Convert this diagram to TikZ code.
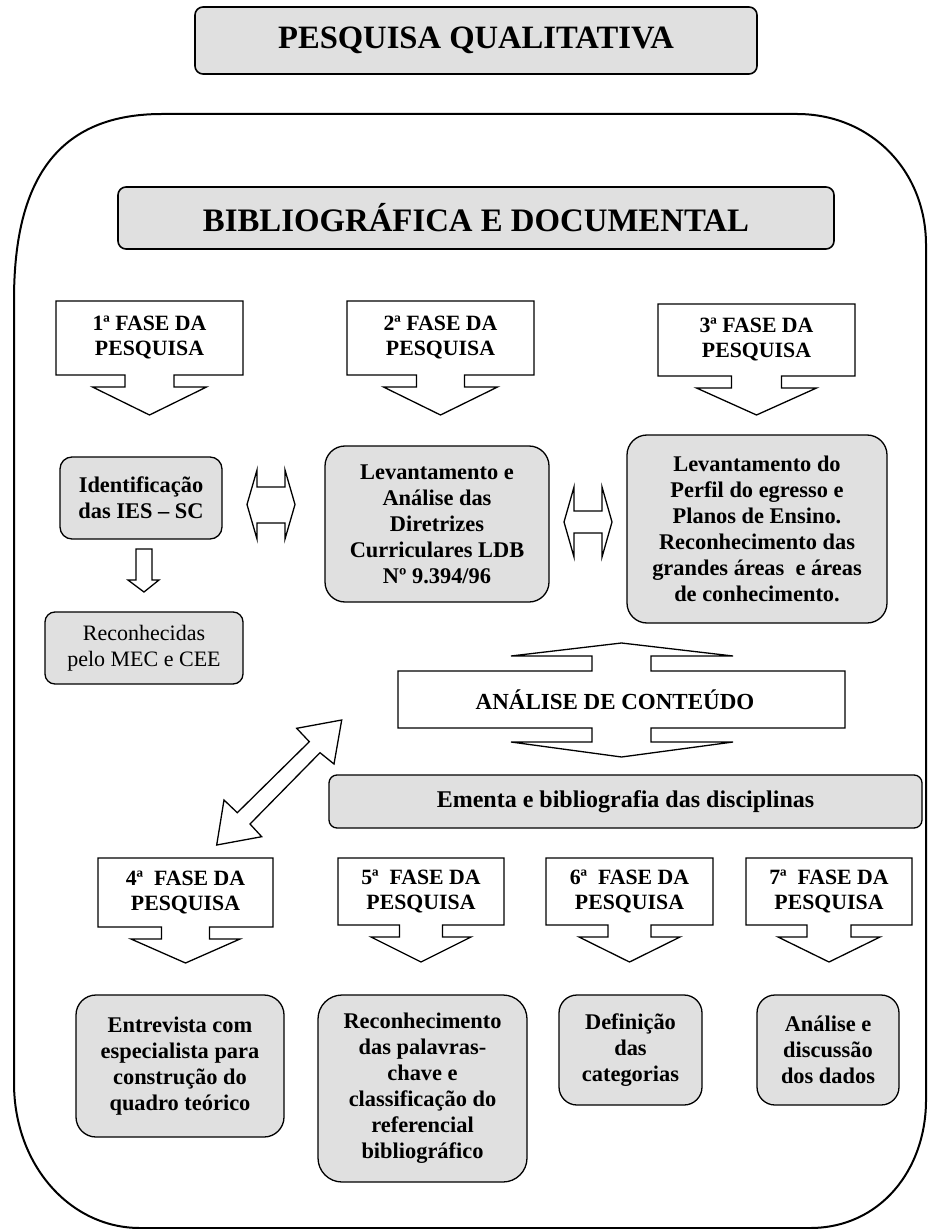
\documentclass[tikz,border=0pt]{standalone}
\usepackage{fontspec}
\setmainfont{Liberation Serif}
\colorlet{boxfill}{gray!24}
\tikzset{
  frame/.style={line width=1pt, black},
  block/.style={draw, line width=0.65pt, fill=boxfill, rounded corners=#1, align=center, inner sep=0pt},
  block/.default=6pt,
  blockarrow/.style={draw, line width=0.65pt, fill=white, line join=miter},
  fasetext/.style={font=\bfseries\fontsize{10.9}{12.5}\selectfont, align=center, inner sep=0pt},
  boxtext/.style={font=\bfseries\fontsize{11.2}{13}\selectfont},
}

\begin{document}
\begin{tikzpicture}[x=0.5pt,y=-0.5pt]
  \useasboundingbox (0,0) rectangle (928,1229);

  %--------------------------------------------
  % Outer frame
  %--------------------------------------------
  \draw[frame] (162,114) -- (797,114)
    .. controls (870,114) and (926,170) .. (926,245) -- (926,1100)
    .. controls (926,1170) and (880,1228) .. (810,1228) -- (140,1228)
    .. controls (70,1228) and (14,1165) .. (14,1083) -- (14,300)
    .. controls (14,190) and (50,114) .. (162,114) -- cycle;

  %--------------------------------------------
  % Titles
  %--------------------------------------------
  \node[block=4pt, line width=0.8pt, minimum width=281pt, minimum height=33.5pt,
        font=\bfseries\fontsize{16.3}{18}\selectfont] (titulo) at (476,40.5) {PESQUISA QUALITATIVA};
  \node[block=4pt, line width=0.8pt, minimum width=358pt, minimum height=31pt,
        font=\bfseries\fontsize{16.4}{18}\selectfont] (biblio) at (476,218) {BIBLIOGRÁFICA E DOCUMENTAL};

  %--------------------------------------------
  % Phase callouts (box with a down arrow)
  %--------------------------------------------
  \foreach \nm/\xl/\xr/\yt/\yb/\sw/\hw/\td/\txt in {
      fase1/56/243/301/375/24.5/57/40/{1ª FASE DA\\PESQUISA},
      fase2/347/534/301/375/24/57/40/{2ª FASE DA\\PESQUISA},
      fase3/658/855/304/376/25/60/39/{3ª FASE DA\\PESQUISA},
      fase4/98/273/858/927/24/54.5/36/{4ª\ \ FASE DA\\PESQUISA},
      fase5/338/504/858/925/21.5/50/37/{5ª\ \ FASE DA\\PESQUISA},
      fase6/546/713/858/925/21.5/50.5/37/{6ª\ \ FASE DA\\PESQUISA},
      fase7/746/912/858/925/22/51/37/{7ª\ \ FASE DA\\PESQUISA}}{
    \pgfmathsetmacro\xc{(\xl+\xr)/2}
    \draw[blockarrow] (\xl,\yt) -- (\xr,\yt) -- (\xr,\yb) -- ({\xc+\sw},\yb)
      -- ({\xc+\sw},{\yb+12}) -- ({\xc+\hw},{\yb+12}) -- (\xc,{\yb+\td})
      -- ({\xc-\hw},{\yb+12}) -- ({\xc-\sw},{\yb+12}) -- ({\xc-\sw},\yb)
      -- (\xl,\yb) -- cycle;
    \node[fasetext] (\nm) at (\xc,{(\yt+\yb)/2}) {\txt};
  }

  %--------------------------------------------
  % Second row boxes
  %--------------------------------------------
  \node[block, boxtext, minimum width=81pt, minimum height=41pt] (ident) at (141,498)
    {Identificação\\das IES -- SC};
  \node[block=5pt, font=\fontsize{11}{13}\selectfont, minimum width=99pt, minimum height=36pt] (reconh) at (144,648)
    {Reconhecidas\\pelo MEC e CEE};
  \node[block=10pt, boxtext, minimum width=112pt, minimum height=78pt] (levdir) at (437,524)
    {Levantamento e\\Análise das\\Diretrizes\\Curriculares LDB\\Nº 9.394/96};
  \node[block=10pt, boxtext, minimum width=130pt, minimum height=94pt] (levperf) at (757,529)
    {Levantamento do\\Perfil do egresso e\\Planos de Ensino.\\Reconhecimento das\\grandes áreas\ \ e áreas\\de conhecimento.};

  % left-right arrows between the boxes
  \draw[blockarrow] (247,504.5) -- (257,470) -- (257,487) -- (285,487) -- (285,470)
    -- (295,504.5) -- (285,539) -- (285,523) -- (257,523) -- (257,539) -- cycle;
  \draw[blockarrow] (564,522) -- (574,487) -- (574,511) -- (602,511) -- (602,487)
    -- (612,522) -- (602,557) -- (602,533) -- (574,533) -- (574,557) -- cycle;

  % small down arrow
  \draw[blockarrow] (136,549) -- (152,549) -- (152,580) -- (159,580) -- (144,592)
    -- (128,580) -- (136,580) -- cycle;

  %--------------------------------------------
  % Content analysis (up-down callout)
  %--------------------------------------------
  \draw[blockarrow] (398,671) -- (592,671) -- (592,656) -- (511,656) -- (621.5,643)
    -- (733,656) -- (651,656) -- (651,671) -- (845,671) -- (845,728) -- (651,728)
    -- (651,742) -- (733,742) -- (621.5,757) -- (511,742) -- (592,742) -- (592,728)
    -- (398,728) -- cycle;
  \node[font=\bfseries\fontsize{11.5}{13}\selectfont] (conteudo) at (615,700) {ANÁLISE DE CONTEÚDO};

  \node[block=4pt, minimum width=296.5pt, minimum height=26.5pt,
        font=\bfseries\fontsize{12}{14}\selectfont] (ementa) at (625.5,801.5) {Ementa e bibliografia das disciplinas};

  % diagonal double arrow
  \draw[blockarrow] (216.7,845) -- (224,800) -- (237.3,812.7) -- (309.3,741.7)
    -- (296.7,728.3) -- (341.7,720) -- (334,764) -- (320,752.7) -- (250,824)
    -- (261.7,836.7) -- cycle;

  %--------------------------------------------
  % Bottom row boxes
  %--------------------------------------------
  \node[block=10pt, boxtext, minimum width=104pt, minimum height=71pt] (entrev) at (180,1066)
    {Entrevista com\\especialista para\\construção do\\quadro teórico};
  \node[block=12pt, boxtext, minimum width=104.5pt, minimum height=93.5pt] (recpal) at (422.5,1088.5)
    {Reconhecimento\\das palavras-\\chave e\\classificação do\\referencial\\bibliográfico};
  \node[block=9pt, boxtext, minimum width=71.5pt, minimum height=55pt] (defcat) at (630.5,1050)
    {Definição\\das\\categorias};
  \node[block=9pt, boxtext, minimum width=71pt, minimum height=55pt] (analdis) at (828,1050)
    {Análise e\\discussão\\dos dados};
\end{tikzpicture}
\end{document}
